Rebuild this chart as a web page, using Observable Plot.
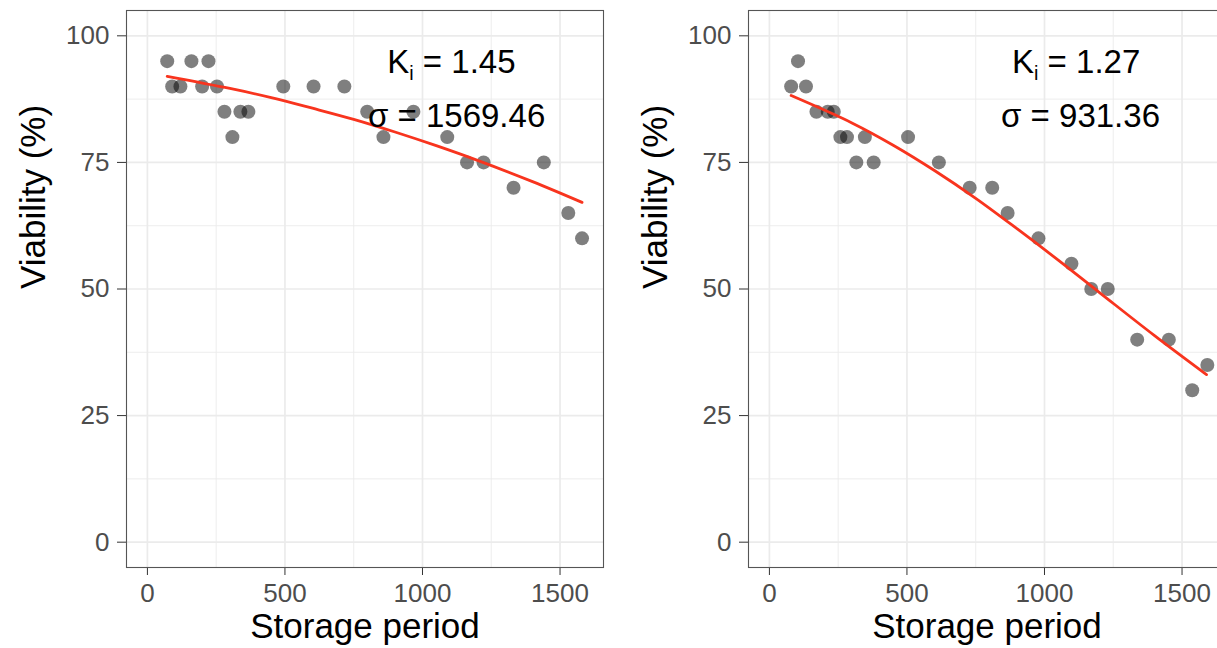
<!DOCTYPE html>
<html>
<head>
<meta charset="utf-8">
<script src="https://cdn.jsdelivr.net/npm/d3@7"></script>
<script src="https://cdn.jsdelivr.net/npm/@observablehq/plot@0.6"></script>
<style>
  html, body { margin: 0; padding: 0; background: white; overflow: hidden; }
  #wrap { display: flex; width: 1217px; height: 648px; overflow: hidden; }
  #wrap > svg { flex: none; }
</style>
</head>
<body>
<div id="wrap"></div>
<script>
// ---- tick values ----
const xTicks = [0, 500, 1000, 1500];
const xMinor = [250, 750, 1250];
const yTicks = [0, 25, 50, 75, 100];
const yMinor = [12.5, 37.5, 62.5, 87.5];

// ---- left panel: observations ----
const leftX = [72, 160, 222, 90, 120, 199, 253, 494, 604, 716, 280, 338, 367, 799, 967, 309, 858, 1090, 1162, 1222, 1441, 1331, 1530, 1580];
const leftY = [95, 95, 95, 90, 90, 90, 90, 90, 90, 90, 85, 85, 85, 85, 85, 80, 80, 80, 75, 75, 75, 70, 65, 60];
// ---- left panel: fitted curve ----
const leftLineX = [72, 300, 450, 600, 750, 900, 1050, 1200, 1400, 1580];
const leftLineY = [92.0, 89.6, 87.8, 85.7, 83.5, 81.0, 78.3, 75.4, 71.2, 67.1];
// ---- left panel: annotation ----
const leftAnnX = [1105, 1124];
const leftAnnY = [94.7, 84.0];
const leftAnnText = ["K_i = 1.45", "σ = 1569.46"];

// ---- right panel: observations ----
const rightX = [104, 79, 133, 171, 212, 234, 258, 282, 347, 504, 316, 379, 616, 728, 810, 866, 978, 1098, 1170, 1230, 1337, 1452, 1537, 1592];
const rightY = [95, 90, 90, 85, 85, 85, 80, 80, 80, 80, 75, 75, 75, 70, 70, 65, 60, 55, 50, 50, 40, 40, 30, 35];
// ---- right panel: fitted curve ----
const rightLineX = [79, 300, 450, 600, 750, 900, 1050, 1200, 1400, 1589];
const rightLineY = [88.2, 82.8, 78.4, 73.4, 67.9, 61.9, 55.7, 49.3, 40.8, 33.1];
// ---- right panel: annotation ----
const rightAnnX = [1115, 1131];
const rightAnnY = [94.7, 84.0];
const rightAnnText = ["K_i = 1.27", "σ = 931.36"];

const xLabel = "Storage period";
const yLabel = "Viability (%)";

function zip(xs, ys, extra) {
  return xs.map((x, i) => ({x, y: ys[i], t: extra ? extra[i] : null}));
}

function panel(pts, line, ann, width, marginLeft, marginRight) {
  const grid = {stroke: "#ebebeb", strokeOpacity: 1};
  const svg = Plot.plot({
    width, height: 648,
    marginTop: 10, marginBottom: 81, marginLeft, marginRight,
    x: {domain: [-76, 1658]},
    y: {domain: [-5, 105]},
    style: {fontFamily: "Liberation Sans", fontSize: "26px", background: "white", overflow: "visible"},
    marks: [
      Plot.gridX(xMinor, {...grid, strokeWidth: 0.9}),
      Plot.gridY(yMinor, {...grid, strokeWidth: 0.9}),
      Plot.gridX(xTicks, {...grid, strokeWidth: 1.7}),
      Plot.gridY(yTicks, {...grid, strokeWidth: 1.7}),
      Plot.dot(pts, {x: "x", y: "y", r: 7, fill: "black", fillOpacity: 0.5, stroke: "none"}),
      Plot.line(line, {x: "x", y: "y", stroke: "#f8341e", strokeWidth: 2.8, curve: "catmull-rom"}),
      Plot.text(ann, {x: "x", y: "y", text: "t", fontSize: 33, fill: "black", lineAnchor: "middle"}),
      Plot.axisX(xTicks, {tickSize: 8, tickPadding: 8, fontSize: 26, stroke: "#333", fill: "#4d4d4d", label: null, tickFormat: d => String(d)}),
      Plot.axisY(yTicks, {tickSize: 9, tickPadding: 8, fontSize: 26, stroke: "#333", fill: "#4d4d4d", label: null, tickFormat: d => String(d)}),
      Plot.text([xLabel], {text: d => d, frameAnchor: "bottom", dy: 70, lineAnchor: "bottom", fontSize: 35, fill: "black"}),
      Plot.text([yLabel], {text: d => d, frameAnchor: "left", rotate: -90, dx: -93, lineAnchor: "middle", fontSize: 35, fill: "black"}),
      Plot.frame({stroke: "#555", strokeWidth: 1.1})
    ]
  });
  // subscript i in "K_i"
  d3.select(svg).selectAll("text").each(function() {
    const t = this.textContent;
    if (t.startsWith("K_i")) {
      const sel = d3.select(this);
      sel.text(null);
      sel.append("tspan").text("K");
      sel.append("tspan").attr("font-size", "0.6em").attr("dy", "0.35em").text("i");
      sel.append("tspan").attr("dy", "-0.21em").text(t.slice(3));
    }
  });
  return svg;
}

const wrap = document.getElementById("wrap");
wrap.appendChild(panel(zip(leftX, leftY), zip(leftLineX, leftLineY), zip(leftAnnX, leftAnnY, leftAnnText), 620, 126, 17));
wrap.appendChild(panel(zip(rightX, rightY), zip(rightLineX, rightLineY), zip(rightAnnX, rightAnnY, rightAnnText), 617, 128, 12));
</script>
</body>
</html>
